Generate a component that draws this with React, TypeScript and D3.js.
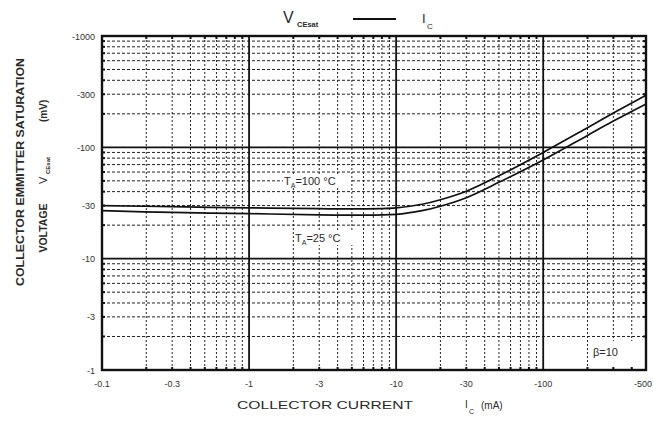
import React from "react";
import * as d3 from "d3";

const currents = [0.1, 0.3, 1, 3, 5, 10, 15, 20, 30, 50, 100, 200, 300, 500];
const vce100 = [30, 29.3, 28.6, 28.1, 28.0, 28.6, 30.8, 33.8, 40.3, 55.5, 90, 150, 203, 294];
const vce25 = [27, 26, 25.4, 24.7, 24.6, 25.0, 27.0, 29.6, 35.3, 48.5, 77, 128, 172, 245];

const xTickVals = [0.1, 0.3, 1, 3, 10, 30, 100, 500];
const xTickLabels = ["-0.1", "-0.3", "-1", "-3", "-10", "-30", "-100", "-500"];
const yTickVals = [1, 3, 10, 30, 100, 300, 1000];
const yTickLabels = ["-1", "-3", "-10", "-30", "-100", "-300", "-1000"];

const W = 653;
const H = 421;
const L = 102, R = 646, T = 36, B = 370;

export default function App() {
  const x = d3.scaleLog().domain([0.1, 500]).range([L, R]);
  const y = d3.scaleLog().domain([1, 1000]).range([B, T]);

  const minorX: number[] = [];
  [0.1, 1, 10, 100].forEach((d) => {
    for (let k = 2; k <= 9; k++) {
      const v = d * k;
      if (v < 500) minorX.push(v);
    }
  });
  const minorY: number[] = [];
  [1, 10, 100].forEach((d) => {
    for (let k = 2; k <= 9; k++) minorY.push(d * k);
  });
  const majorX = [1, 10, 100];
  const majorY = [10, 100];

  const line = d3
    .line<[number, number]>()
    .x((d) => x(d[0]))
    .y((d) => y(d[1]))
    .curve(d3.curveCatmullRom.alpha(0.5));

  const s100 = currents.map((c, i) => [c, vce100[i]] as [number, number]);
  const s25 = currents.map((c, i) => [c, vce25[i]] as [number, number]);

  const font = "Liberation Sans, Arial, sans-serif";
  const txt = "#2a2a2a";

  return (
    <svg
      width={W}
      height={H}
      style={{ position: "absolute", left: 0, top: 0, background: "#fff" }}
      fontFamily={font}
    >
      <rect x={0} y={0} width={W} height={H} fill="#fff" />
      {/* minor grid */}
      {minorX.map((v) => (
        <line
          key={"mx" + v}
          x1={x(v)}
          x2={x(v)}
          y1={T}
          y2={B}
          stroke="#222"
          strokeWidth={1}
          strokeDasharray="2,2"
        />
      ))}
      {minorY.map((v) => (
        <line
          key={"my" + v}
          x1={L}
          x2={R}
          y1={y(v)}
          y2={y(v)}
          stroke="#222"
          strokeWidth={1}
          strokeDasharray="3,2"
        />
      ))}
      {/* major grid */}
      {majorX.map((v) => (
        <line key={"Mx" + v} x1={x(v)} x2={x(v)} y1={T} y2={B} stroke="#111" strokeWidth={1.8} />
      ))}
      {majorY.map((v) => (
        <line key={"My" + v} x1={L} x2={R} y1={y(v)} y2={y(v)} stroke="#111" strokeWidth={1.8} />
      ))}
      {/* edge ticks */}
      {minorX.map((v) => (
        <g key={"tx" + v}>
          <line x1={x(v)} x2={x(v)} y1={B - 3} y2={B} stroke="#111" strokeWidth={2} />
          <line x1={x(v)} x2={x(v)} y1={T} y2={T + 3} stroke="#111" strokeWidth={2} />
        </g>
      ))}
      {minorY.map((v) => (
        <g key={"ty" + v}>
          <line x1={L} x2={L + 3} y1={y(v)} y2={y(v)} stroke="#111" strokeWidth={2} />
          <line x1={R - 3} x2={R} y1={y(v)} y2={y(v)} stroke="#111" strokeWidth={2} />
        </g>
      ))}
      {/* beta box */}
      <rect x={590} y={341} width={52} height={26} fill="#fff" />
      <text x={593} y={356} fontSize={11} fill={txt}>β=10</text>

      {/* curves */}
      <path d={line(s100) || ""} fill="none" stroke="#111" strokeWidth={1.7} />
      <path d={line(s25) || ""} fill="none" stroke="#111" strokeWidth={1.7} />

      {/* curve labels */}
      <rect x={283} y={174} width={68} height={14} fill="#fff" />
      <text x={284} y={185} fontSize={11} fill={txt}>
        T<tspan fontSize={7} dy={3}>A</tspan>
        <tspan dy={-3}>=100 °C</tspan>
      </text>
      <rect x={294} y={231} width={60} height={14} fill="#fff" />
      <text x={295} y={242} fontSize={11} fill={txt}>
        T<tspan fontSize={7} dy={3}>A</tspan>
        <tspan dy={-3}>=25 °C</tspan>
      </text>

      {/* border */}
      <rect x={L} y={T} width={R - L} height={B - T} fill="none" stroke="#111" strokeWidth={2.4} />

      {/* y tick labels */}
      {yTickVals.map((v, i) => (
        <text key={"yl" + v} x={95} y={y(v) + 3.5} fontSize={9} textAnchor="end" fill="#333">
          {yTickLabels[i]}
        </text>
      ))}
      {/* x tick labels */}
      {xTickVals.map((v, i) => (
        <text
          key={"xl" + v}
          x={i === xTickVals.length - 1 ? 652 : x(v)}
          y={387}
          fontSize={9}
          textAnchor={i === xTickVals.length - 1 ? "end" : "middle"}
          fill="#333"
        >
          {xTickLabels[i]}
        </text>
      ))}

      {/* title */}
      <text x={283} y={23} fontSize={16} fill={txt}>V</text>
      <text x={297} y={27} fontSize={7.5} fontWeight="bold" fill={txt}>CEsat</text>
      <line x1={353} x2={396} y1={19} y2={19} stroke="#111" strokeWidth={2} />
      <text x={422} y={23} fontSize={13} fill={txt}>I</text>
      <text x={427} y={29} fontSize={8} fill={txt}>C</text>

      {/* x axis title */}
      <text x={237} y={409} fontSize={10.5} fill={txt} textLength={176} lengthAdjust="spacingAndGlyphs">
        COLLECTOR CURRENT
      </text>
      <text x={465} y={408} fontSize={10} fill={txt}>I</text>
      <text x={469} y={414} fontSize={7} fill={txt}>C</text>
      <text x={481} y={409} fontSize={10} fill={txt}>(mA)</text>

      {/* y axis title */}
      <text
        transform="translate(24,172) rotate(-90)"
        fontSize={10.5}
        fontWeight="bold"
        fill={txt}
        textAnchor="middle"
        textLength={228}
        lengthAdjust="spacingAndGlyphs"
      >
        COLLECTOR EMMITTER SATURATION
      </text>
      <text
        transform="translate(47,228) rotate(-90)"
        fontSize={10.5}
        fontWeight="bold"
        fill={txt}
        textAnchor="middle"
      >
        VOLTAGE
      </text>
      <text transform="translate(47,184) rotate(-90)" fontSize={11} fill={txt}>V</text>
      <text transform="translate(50,174) rotate(-90)" fontSize={6} fontWeight="bold" fill={txt}>CEsat</text>
      <text
        transform="translate(47,122) rotate(-90)"
        fontSize={10}
        fontWeight="bold"
        fill={txt}
      >
        (mV)
      </text>
    </svg>
  );
}
